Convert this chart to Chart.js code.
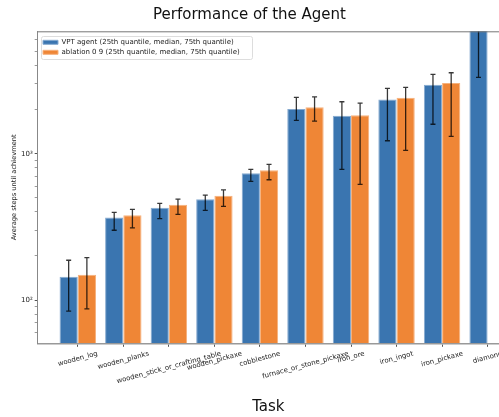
<!DOCTYPE html>
<html>
<head>
<meta charset="utf-8">
<script src="https://cdn.jsdelivr.net/npm/chart.js@4"></script>
<style>
  html, body { margin: 0; padding: 0; background: #fff; overflow: hidden; }
  #chart { display: block; }
</style>
</head>
<body>
<canvas id="chart" width="499" height="417"></canvas>
<script>
const tasks = ['wooden_log', 'wooden_planks', 'wooden_stick_or_crafting_table', 'wooden_pickaxe',
  'cobblestone', 'furnace_or_stone_pickaxe', 'iron_ore', 'iron_ingot', 'iron_pickaxe', 'diamond'];

// medians and 25th / 75th quantiles
const vptMedian = [144, 367, 428, 488, 735, 2020, 1820, 2350, 2960, 9000];
const vptQ25 = [84, 300, 360, 410, 648, 1690, 782, 1227, 1590, 3330];
const vptQ75 = [187, 397, 458, 522, 782, 2430, 2266, 2800, 3490, 12000];
const ablMedian = [149, 379, 448, 516, 770, 2075, 1830, 2414, 3042, null];
const ablQ25 = [87, 311, 385, 437, 664, 1673, 618, 1055, 1315, null];
const ablQ75 = [195, 417, 490, 567, 847, 2445, 2221, 2844, 3579, null];

const yTickValues = [100, 1000];
const yTickLabels = ['10²', '10³'];
const yMinorTicks = [60, 70, 80, 90, 200, 300, 400, 500, 600, 700, 800, 900, 2000, 3000, 4000, 5000, 6000];

const font = 'DejaVu Sans';
Chart.defaults.font.family = font;

const errorBars = {
  id: 'errorBars',
  afterDatasetsDraw(chart) {
    const { ctx, chartArea } = chart;
    const y = chart.scales.y;
    ctx.save();
    ctx.beginPath();
    ctx.rect(chartArea.left, chartArea.top, chartArea.width, chartArea.height);
    ctx.clip();
    ctx.strokeStyle = 'rgba(0,0,0,0.78)';
    ctx.lineWidth = 1.3;
    chart.data.datasets.forEach((ds, di) => {
      chart.getDatasetMeta(di).data.forEach((bar, i) => {
        if (ds.low[i] == null) return;
        const x = bar.x;
        const top = y.getPixelForValue(ds.high[i]);
        const bot = y.getPixelForValue(ds.low[i]);
        ctx.beginPath();
        ctx.moveTo(x, top); ctx.lineTo(x, bot);
        ctx.moveTo(x - 2.5, top); ctx.lineTo(x + 2.5, top);
        ctx.moveTo(x - 2.5, bot); ctx.lineTo(x + 2.5, bot);
        ctx.stroke();
      });
    });
    ctx.restore();
  }
};

// matplotlib style: rotated labels centred under the tick
const centerXLabels = {
  id: 'centerXLabels',
  beforeDraw(chart) {
    const sc = chart.scales.x;
    const ctx = chart.ctx;
    const a = 15 * Math.PI / 180;
    ctx.save();
    sc.getLabelItems().forEach((it, i) => {
      ctx.font = it.font.string;
      const w = ctx.measureText(it.label).width;
      const h = it.font.size;
      it.textOffset = 0;
      it.options.textAlign = 'center';
      it.options.textBaseline = 'middle';
      it.options.rotation = -a;
      it.options.translation = [sc.getPixelForTick(i), sc.top + 7 + w / 2 * Math.sin(a) + h / 2 * Math.cos(a)];
    });
    ctx.restore();
  }
};

// legend sits inside the plot, upper left
const legendInside = {
  id: 'legendInside',
  afterLayout(chart) {
    const lg = chart.legend;
    const dx = chart.chartArea.left + 2.3 - lg.left;
    const dy = chart.chartArea.top + 4.5 - lg.top;
    lg.left += dx; lg.right += dx;
    lg.top += dy; lg.bottom += dy;
    lg.legendHitBoxes.forEach(b => { b.left += dx; b.top += dy; });
  }
};

const frame = {
  id: 'frame',
  afterDraw(chart) {
    const { ctx, chartArea } = chart;
    ctx.save();
    ctx.strokeStyle = '#777';
    ctx.lineWidth = 1;
    ctx.beginPath();
    ctx.moveTo(chartArea.left, chartArea.top + 0.5);
    ctx.lineTo(chartArea.right, chartArea.top + 0.5);
    ctx.stroke();
    const boxes = chart.legend.legendHitBoxes;
    if (boxes && boxes.length) {
      const l = Math.min(...boxes.map(b => b.left)) - 4.3;
      const t = Math.min(...boxes.map(b => b.top)) - 3.3;
      const r = Math.max(...boxes.map(b => b.left + b.width)) + 10;
      const btm = Math.max(...boxes.map(b => b.top + b.height)) + 2.7;
      ctx.strokeStyle = '#ddd';
      ctx.beginPath();
      ctx.roundRect(Math.round(l) + 0.5, Math.round(t) + 0.5, Math.round(r - l), Math.round(btm - t), 2);
      ctx.stroke();
    }
    ctx.restore();
  }
};

new Chart(document.getElementById('chart'), {
  type: 'bar',
  data: {
    datasets: [
      {
        label: 'VPT agent (25th quantile, median, 75th quantile)',
        data: vptMedian.map((v, i) => ({ x: i, y: v })),
        low: vptQ25,
        high: vptQ75,
        backgroundColor: '#3a75b0',
        borderColor: '#86aad0',
        borderWidth: 1
      },
      {
        label: 'ablation 0 9 (25th quantile, median, 75th quantile)',
        data: ablMedian.map((v, i) => ({ x: i, y: v })),
        low: ablQ25,
        high: ablQ75,
        backgroundColor: '#ef8636',
        borderColor: '#f6b17c',
        borderWidth: 1
      }
    ]
  },
  options: {
    responsive: false,
    animation: false,
    devicePixelRatio: 1,
    categoryPercentage: 0.8,
    barPercentage: 1,
    layout: { padding: 0 },
    plugins: {
      title: {
        display: true,
        text: 'Performance of the Agent',
        font: { size: 15, weight: 'normal' },
        color: '#111',
        padding: { top: 6, bottom: 7.3 }
      },
      legend: {
        position: 'chartArea',
        align: 'start',
        labels: {
          boxWidth: 15,
          boxHeight: 4,
          padding: 3,
          font: { size: 7 },
          color: '#222'
        }
      },
      tooltip: { enabled: false }
    },
    scales: {
      x: {
        type: 'linear',
        min: -0.88,
        max: 9.25,
        offset: false,
        afterBuildTicks: s => { s.ticks = tasks.map((_, i) => ({ value: i })); },
        afterFit: s => { s.height = 73.7; },
        ticks: {
          callback: v => tasks[v],
          minRotation: 15,
          maxRotation: 15,
          autoSkip: false,
          font: { size: 6.9 },
          color: '#222'
        },
        grid: { drawOnChartArea: false, offset: false, tickLength: 3.5, tickColor: '#555' },
        border: { color: '#999', width: 1.5 },
        title: {
          display: true,
          text: 'Task',
          font: { size: 15 },
          color: '#111',
          padding: { top: 0, bottom: 1 }
        }
      },
      y: {
        type: 'logarithmic',
        min: 50.6,
        max: 6870,
        afterBuildTicks: s => {
          s.ticks = yMinorTicks.concat(yTickValues).sort((a, b) => a - b).map(v => ({ value: v }));
        },
        afterFit: s => { s.width = 37.7; },
        ticks: {
          autoSkip: false,
          callback: v => {
            const k = yTickValues.indexOf(v);
            return k >= 0 ? yTickLabels[k] : '';
          },
          font: { size: 7 },
          color: '#222',
          padding: 2
        },
        grid: {
          drawOnChartArea: false,
          tickLength: 3,
          tickColor: '#555',
          tickWidth: c => (c.tick && yTickValues.includes(c.tick.value) ? 1 : 0.6)
        },
        border: { color: '#888', width: 1 },
        title: {
          display: true,
          text: 'Average steps until achievment',
          font: { size: 6.7 },
          color: '#222',
          padding: { top: 10.5, bottom: 0 }
        }
      }
    }
  },
  plugins: [errorBars, centerXLabels, legendInside, frame]
});
</script>
</body>
</html>
